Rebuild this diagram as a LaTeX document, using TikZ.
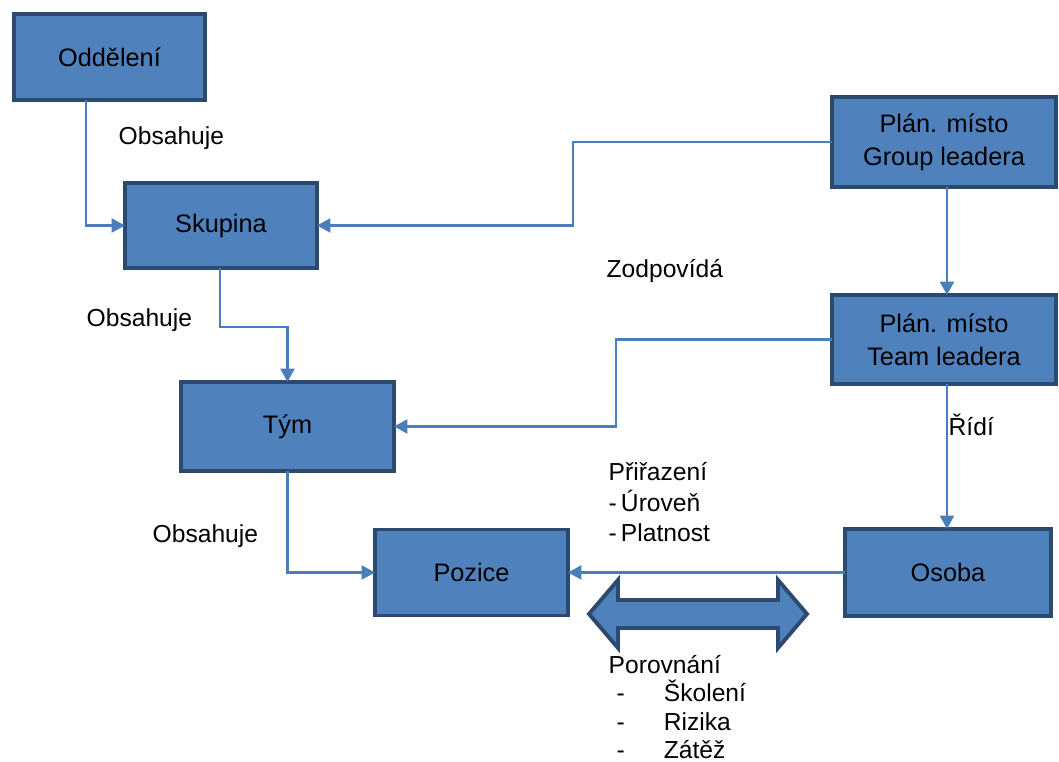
\documentclass[tikz,border=0pt]{standalone}
\usepackage{fontspec}
\setmainfont{Liberation Sans}
\usetikzlibrary{arrows.meta}
\definecolor{modra}{HTML}{4F81BD}
\definecolor{okraj}{HTML}{2C4A70}
\definecolor{cara}{HTML}{4A7EBB}
\begin{document}
\begin{tikzpicture}[x=0.01cm,y=-0.01cm,
	box/.style={draw=okraj,fill=modra,line width=1.1pt,inner sep=0pt,outer sep=0pt,align=center,font=\fontsize{7.2}{9.4}\selectfont},
	spoj/.style={draw=cara,line width=0.6pt,-{Triangle[length=3.8pt,width=4pt]}},
	popis/.style={font=\fontsize{7}{8.5}\selectfont,inner sep=0pt}]
	\useasboundingbox (0,0) rectangle (1059,762);
	\fontsize{7}{8.5}\selectfont

   %bloky
   \node[box,minimum width=1.91cm,minimum height=0.86cm] (odd) at (109.5,57) {Oddělení};
   \node[box,minimum width=1.92cm,minimum height=0.85cm] (sku) at (221,225.5) {Skupina};
   \node[box,minimum width=2.13cm,minimum height=0.89cm] (tym) at (287.5,426.5) {Tým};
   \node[box,minimum width=1.93cm,minimum height=0.86cm] (poz) at (471.5,572.5) {Pozice};
   \node[box,minimum width=2.06cm,minimum height=0.87cm] (osb) at (948,572.5) {Osoba};
   \node[box,minimum width=2.24cm,minimum height=0.90cm] (gl) at (944,142) {Plán. místo\\Group leadera};
   \node[box,minimum width=2.24cm,minimum height=0.89cm] (tl) at (944,339.5) {Plán. místo\\Team leadera};

   %spojnice
   \draw[spoj] (odd.south -| 86,0) |- (sku.west);
   \draw[spoj] (sku.south -| 220,0) -- (220,327) -| (tym.north);
   \draw[spoj] (tym.south) |- (poz.west);
   \draw[spoj] (gl.west) -- (573,142) |- (sku.east);
   \draw[spoj] (gl.south -| 947,0) -- (tl.north -| 947,0);
   \draw[spoj] (tl.west) -- (616,339.5) |- (tym.east);
   \draw[spoj] (tl.south -| 947,0) -- (osb.north -| 947,0);
   \draw[spoj] (osb.west) -- (poz.east);

   %dvojita sipka
   \draw[draw=okraj,fill=modra,line width=1.1pt,line join=miter]
      (589,614) -- (618,580) -- (618,600) -- (778,600) -- (778,580) -- (807,614)
      -- (778,648) -- (778,628) -- (618,628) -- (618,648) -- cycle;

   %popisky
   \node[popis,anchor=west] (o1) at (118,138) {Obsahuje};
   \node[popis,anchor=west] (o2) at (86,320) {Obsahuje};
   \node[popis,anchor=west] (o3) at (152,536) {Obsahuje};
   \node[popis,anchor=west] (zod) at (606,271) {Zodpovídá};
   \node[popis,anchor=west] (rid) at (948,425) {Řídí};
   \node[popis,anchor=north west,align=left,font=\fontsize{7}{8.6}\selectfont] (pri) at (608,462)
      {Přiřazení\\-\,Úroveň\\-\,Platnost};
   \node[popis,anchor=north west,align=left,font=\fontsize{7}{8}\selectfont] (por) at (608,655)
      {Porovnání\\\hspace{0.8mm}-\hspace{3.9mm}Školení\\\hspace{0.8mm}-\hspace{3.9mm}Rizika\\\hspace{0.8mm}-\hspace{3.9mm}Zátěž};
\end{tikzpicture}
\end{document}
